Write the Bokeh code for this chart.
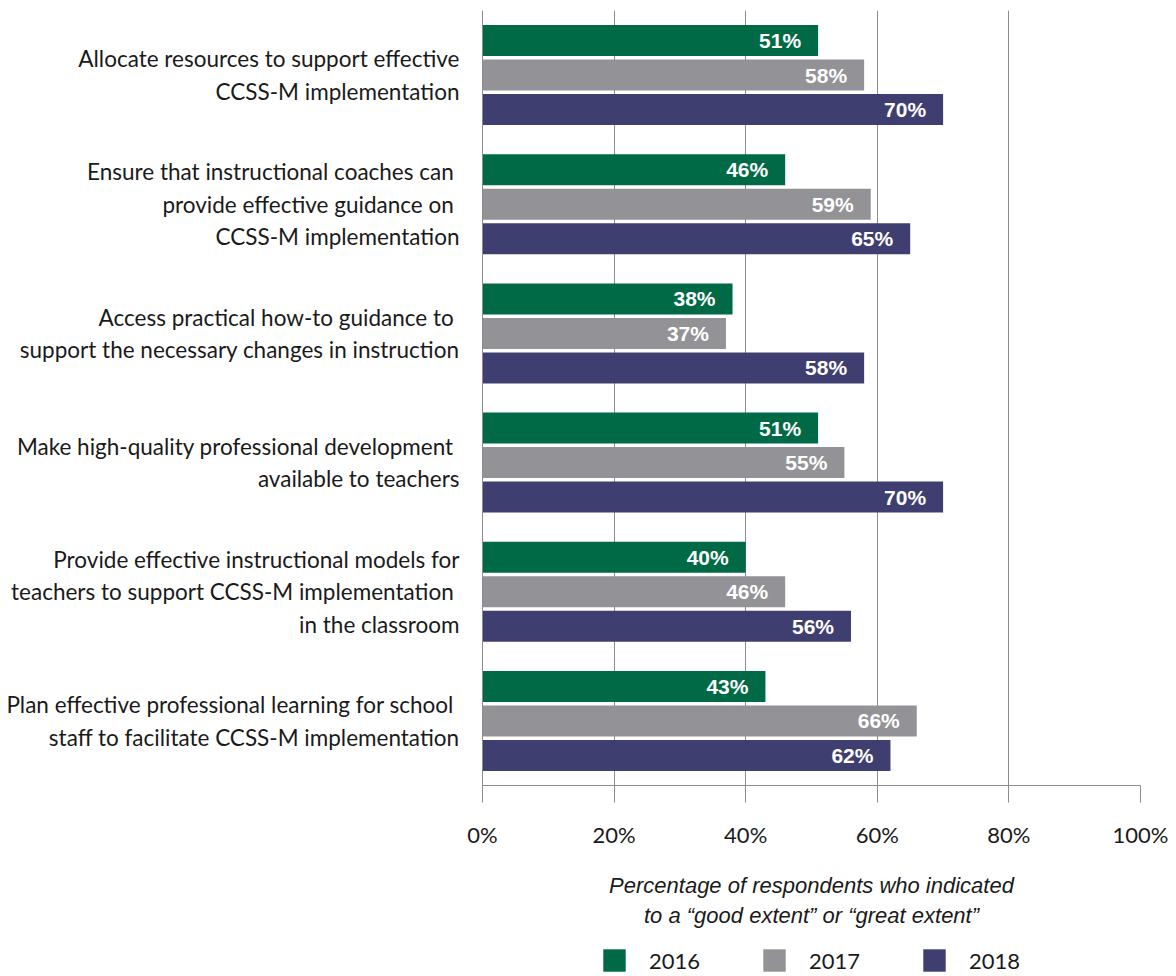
from bokeh.plotting import figure
from bokeh.layouts import column
from bokeh.models import (Range1d, FixedTicker, PrintfTickFormatter, Legend, LegendItem,
                          ColumnDataSource, Label)
from bokeh.transform import dodge
from bokeh.core.properties import value
from bokeh.embed import file_html
from bokeh.resources import INLINE

# ---- data ----
categories = [
    "Allocate resources to support effective\nCCSS-M implementation",
    "Ensure that instructional coaches can \nprovide effective guidance on \nCCSS-M implementation",
    "Access practical how-to guidance to \nsupport the necessary changes in instruction",
    "Make high-quality professional development \navailable to teachers",
    "Provide effective instructional models for\nteachers to support CCSS-M implementation \nin the classroom",
    "Plan effective professional learning for school \nstaff to facilitate CCSS-M implementation",
]
years = ["2016", "2017", "2018"]
v2016 = [51, 46, 38, 51, 40, 43]
v2017 = [58, 59, 37, 55, 46, 66]
v2018 = [70, 65, 58, 70, 56, 62]
x_ticks = [0, 20, 40, 60, 80, 100]
axis_title = ["Percentage of respondents who indicated",
              "to a \u201cgood extent\u201d or \u201cgreat extent\u201d"]

colors = ["#006a46", "#939397", "#3f3e70"]
grid_color = "#8c8c8c"
label_font = "Lato"

pos = [i + 0.5 for i in range(len(categories))]
src = ColumnDataSource(dict(
    y=pos,
    v2016=v2016, v2017=v2017, v2018=v2018,
    l2016=[f"{v}%" for v in v2016],
    l2017=[f"{v}%" for v in v2017],
    l2018=[f"{v}%" for v in v2018],
))

p = figure(frame_width=658, frame_height=775, output_backend="svg", toolbar_location=None,
           x_range=Range1d(0, 100), y_range=Range1d(len(categories), 0),
           min_border_left=482, min_border_right=36, min_border_top=10,
           min_border_bottom=76)
p.outline_line_color = None
p.background_fill_color = "white"

offsets = [-0.267, 0.0, 0.267]
bar_h = 0.24
for yr, off, col in zip(years, offsets, colors):
    p.hbar(y=dodge("y", off, range=p.y_range), left=0, right="v" + yr,
           height=bar_h, source=src, fill_color=col, line_color=None)
    p.text(x="v" + yr, y=dodge("y", off, range=p.y_range), text="l" + yr, source=src,
           x_offset=-17, text_align="right", text_baseline="middle",
           text_color="white", text_font=value("Liberation Sans"),
           text_font_style="bold", text_font_size="21px")

# x axis
p.xaxis.ticker = FixedTicker(ticks=x_ticks)
p.xaxis.formatter = PrintfTickFormatter(format="%d%%")
p.xaxis.major_tick_out = 17
p.xaxis.major_tick_in = 0
p.xaxis.minor_tick_line_color = None
p.xaxis.axis_line_color = grid_color
p.xaxis.major_tick_line_color = grid_color
p.xaxis.major_label_text_font = label_font
p.xaxis.major_label_text_font_size = "22px"
p.xaxis.major_label_text_color = "#1a1a1a"
p.xaxis.major_label_standoff = 18

# y axis
p.yaxis.ticker = FixedTicker(ticks=pos)
p.yaxis.major_label_overrides = {pv: c for pv, c in zip(pos, categories)}
p.yaxis.major_tick_line_color = None
p.yaxis.minor_tick_line_color = None
p.yaxis.axis_line_color = grid_color
p.yaxis.major_label_standoff = 17
p.yaxis.major_label_text_font = label_font
p.yaxis.major_label_text_font_size = "22.5px"
p.yaxis.major_label_text_line_height = 1.195
p.yaxis.major_label_text_color = "#1a1a1a"

p.xgrid.ticker = FixedTicker(ticks=x_ticks)
p.xgrid.grid_line_color = grid_color
p.ygrid.visible = False

# ---- footer: axis title + legend (pixel-scaled helper figure) ----
FOOT_W, FOOT_H = 1176, 115
p2 = figure(frame_width=FOOT_W, frame_height=FOOT_H, output_backend="svg",
            toolbar_location=None,
            x_range=Range1d(0, FOOT_W), y_range=Range1d(0, FOOT_H),
            x_axis_location=None, y_axis_location=None,
            min_border=0, min_border_left=0, min_border_right=0,
            min_border_top=0, min_border_bottom=0)
p2.outline_line_color = None
p2.grid.visible = False

# the label renders shifted right by the main plot's left border; compensate
title_cx = 811 - 482
for i, line in enumerate(axis_title):
    p2.add_layout(Label(x=title_cx, y=91 - 30 * i, x_units="data", y_units="data",
                        text=line, text_align="center", text_baseline="middle",
                        text_font="Liberation Sans", text_font_style="italic",
                        text_font_size="22px", text_color="#1a1a1a"))

# swatch renderers for the legend (zero-width, outside the footer's view)
swatches = []
for yr, col in zip(years, colors):
    swatches.append(p2.hbar(y=[-50], left=[0], right=[0], height=1,
                            fill_color=col, line_color=None))

legend = Legend(items=[LegendItem(label=yr, renderers=[r]) for yr, r in zip(years, swatches)],
                orientation="horizontal", location=(600, 2),
                glyph_width=28, glyph_height=28, label_standoff=21, spacing=60,
                label_height=28,
                label_text_font=label_font, label_text_font_size="22px",
                label_text_color="#1a1a1a",
                border_line_color=None, background_fill_alpha=0,
                padding=0, margin=0)
p2.add_layout(legend, "center")

layout = column(p, p2, spacing=0)
open("out.html", "w").write(file_html(layout, INLINE))
